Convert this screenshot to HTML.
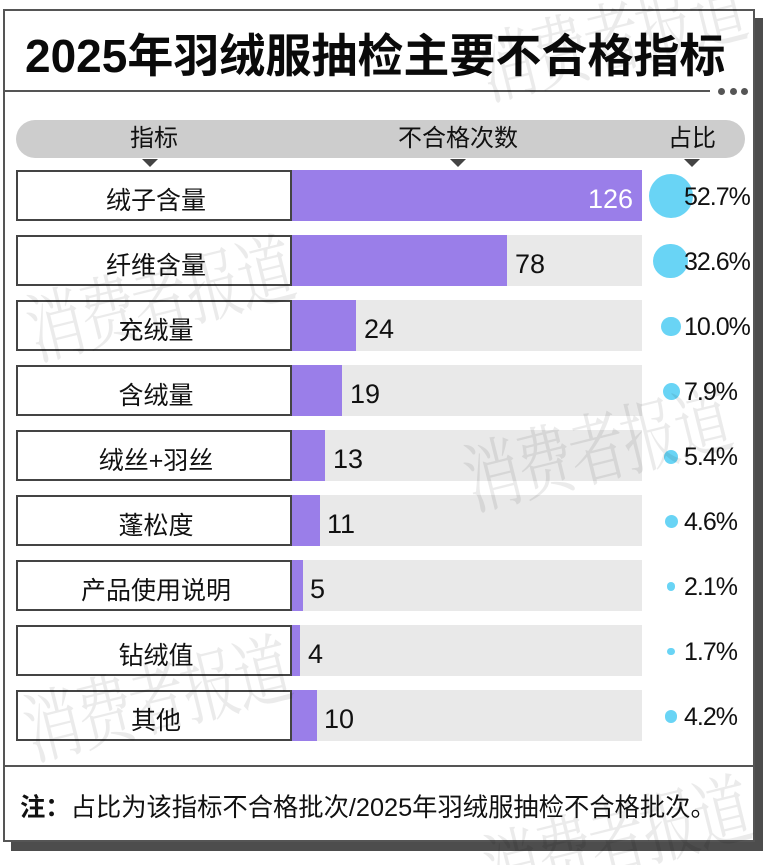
<!DOCTYPE html>
<html><head><meta charset="utf-8">
<style>
*{margin:0;padding:0;box-sizing:border-box}
html,body{width:766px;height:865px;background:#fff;overflow:hidden}
body{position:relative;font-family:"Liberation Sans","Noto Sans CJK SC",sans-serif;color:#111}
.abs{position:absolute}
.frame{left:3px;top:9px;width:752px;height:833px;border:2px solid #555;background:#fff;box-shadow:8px 9px 0 #4d4d4d}
.title{left:25px;top:33px;font-size:46px;line-height:46px;font-weight:bold;white-space:nowrap;color:#0a0a0a}
.hline{background:#555}
.dot{width:7px;height:7px;border-radius:50%;background:#555}
.pill{left:16px;top:120px;width:729px;height:38px;border-radius:19px;background:#cdcdcd}
.hdr{font-size:24px;line-height:24px;white-space:nowrap;top:127px;color:#111}
.tri{width:0;height:0;border-left:8px solid transparent;border-right:8px solid transparent;border-top:8px solid #444;top:159px}
.lbox{left:16px;width:276px;height:51px;border:2px solid #444;background:#fff}
.ltxt{left:18px;width:276px;text-align:center;font-size:25px;line-height:25px;white-space:nowrap}
.track{left:292px;width:350px;height:51px;background:#e9e9e9}
.bar{left:292px;height:51px;background:#9a7ee9}
.val{font-size:27px;line-height:27px;white-space:nowrap;color:#111}
.circ{border-radius:50%;background:#69d4f5}
.pct{left:684px;font-size:25px;line-height:25px;letter-spacing:-1px;white-space:nowrap;color:#111}
.note{left:20px;top:795px;font-size:25.3px;line-height:26px;white-space:nowrap;color:#111}
.wm{font-family:"Noto Serif CJK SC","Liberation Serif",serif;font-size:56px;line-height:56px;color:rgba(0,0,0,0.08);white-space:nowrap;transform-origin:left top;letter-spacing:-2px}
</style></head><body>
<div class="abs frame"></div>

<div class="abs title">2025年羽绒服抽检主要不合格指标</div>
<div class="abs hline" style="left:3px;top:90px;width:707px;height:2px"></div>
<div class="abs dot" style="left:718px;top:88px"></div>
<div class="abs dot" style="left:730px;top:88px"></div>
<div class="abs dot" style="left:741px;top:88px"></div>

<div class="abs pill"></div>
<div class="abs hdr" style="left:130px">指标</div>
<div class="abs hdr" style="left:398px">不合格次数</div>
<div class="abs hdr" style="left:668px">占比</div>
<div class="abs tri" style="left:142px"></div>
<div class="abs tri" style="left:450px"></div>
<div class="abs tri" style="left:684px"></div>

<!-- rows -->
<div class="abs track" style="top:170px"></div><div class="abs bar" style="top:170px;width:350px"></div>
<div class="abs lbox" style="top:170px"></div><div class="abs ltxt" style="top:189px">绒子含量</div>
<div class="abs val" style="top:186px;left:588px;color:#fff">126</div>
<div class="abs circ" style="left:648.5px;top:174px;width:44px;height:44px"></div>
<div class="abs pct" style="top:185px">52.7%</div>

<div class="abs track" style="top:235px"></div><div class="abs bar" style="top:235px;width:215.4px"></div>
<div class="abs lbox" style="top:235px"></div><div class="abs ltxt" style="top:254px">纤维含量</div>
<div class="abs val" style="top:251px;left:515px">78</div>
<div class="abs circ" style="left:653.2px;top:243.7px;width:34.6px;height:34.6px"></div>
<div class="abs pct" style="top:250px">32.6%</div>

<div class="abs track" style="top:300px"></div><div class="abs bar" style="top:300px;width:64px"></div>
<div class="abs lbox" style="top:300px"></div><div class="abs ltxt" style="top:319px">充绒量</div>
<div class="abs val" style="top:316px;left:364px">24</div>
<div class="abs circ" style="left:661.4px;top:316.9px;width:19.2px;height:19.2px"></div>
<div class="abs pct" style="top:315px">10.0%</div>

<div class="abs track" style="top:365px"></div><div class="abs bar" style="top:365px;width:50px"></div>
<div class="abs lbox" style="top:365px"></div><div class="abs ltxt" style="top:384px">含绒量</div>
<div class="abs val" style="top:381px;left:350px">19</div>
<div class="abs circ" style="left:662.5px;top:383px;width:17px;height:17px"></div>
<div class="abs pct" style="top:380px">7.9%</div>

<div class="abs track" style="top:430px"></div><div class="abs bar" style="top:430px;width:33.2px"></div>
<div class="abs lbox" style="top:430px"></div><div class="abs ltxt" style="top:449px">绒丝+羽丝</div>
<div class="abs val" style="top:446px;left:333px">13</div>
<div class="abs circ" style="left:664px;top:449.5px;width:14.1px;height:14.1px"></div>
<div class="abs pct" style="top:445px">5.4%</div>

<div class="abs track" style="top:495px"></div><div class="abs bar" style="top:495px;width:27.5px"></div>
<div class="abs lbox" style="top:495px"></div><div class="abs ltxt" style="top:514px">蓬松度</div>
<div class="abs val" style="top:511px;left:327px">11</div>
<div class="abs circ" style="left:664.5px;top:515px;width:13px;height:13px"></div>
<div class="abs pct" style="top:510px">4.6%</div>

<div class="abs track" style="top:560px"></div><div class="abs bar" style="top:560px;width:10.7px"></div>
<div class="abs lbox" style="top:560px"></div><div class="abs ltxt" style="top:579px">产品使用说明</div>
<div class="abs val" style="top:576px;left:310px">5</div>
<div class="abs circ" style="left:666.6px;top:582.1px;width:8.8px;height:8.8px"></div>
<div class="abs pct" style="top:575px">2.1%</div>

<div class="abs track" style="top:625px"></div><div class="abs bar" style="top:625px;width:7.9px"></div>
<div class="abs lbox" style="top:625px"></div><div class="abs ltxt" style="top:644px">钻绒值</div>
<div class="abs val" style="top:641px;left:308px">4</div>
<div class="abs circ" style="left:667px;top:647.5px;width:7.9px;height:7.9px"></div>
<div class="abs pct" style="top:640px">1.7%</div>

<div class="abs track" style="top:690px"></div><div class="abs bar" style="top:690px;width:24.7px"></div>
<div class="abs lbox" style="top:690px"></div><div class="abs ltxt" style="top:709px">其他</div>
<div class="abs val" style="top:706px;left:324px">10</div>
<div class="abs circ" style="left:664.8px;top:710.3px;width:12.4px;height:12.4px"></div>
<div class="abs pct" style="top:705px">4.2%</div>

<div class="abs hline" style="left:3px;top:765px;width:752px;height:2px"></div>
<div class="abs note"><b>注：</b>占比为该指标不合格批次/2025年羽绒服抽检不合格批次。</div>

<!-- watermarks -->
<div class="abs wm" style="left:470px;top:30px;transform:rotate(-14deg) scaleY(1.4)">消费者报道</div>
<div class="abs wm" style="left:18px;top:290px;transform:rotate(-14deg) scaleY(1.4)">消费者报道</div>
<div class="abs wm" style="left:455px;top:440px;transform:rotate(-14deg) scaleY(1.4)">消费者报道</div>
<div class="abs wm" style="left:15px;top:690px;transform:rotate(-14deg) scaleY(1.4)">消费者报道</div>
<div class="abs wm" style="left:475px;top:830px;transform:rotate(-14deg) scaleY(1.4)">消费者报道</div>
</body></html>
